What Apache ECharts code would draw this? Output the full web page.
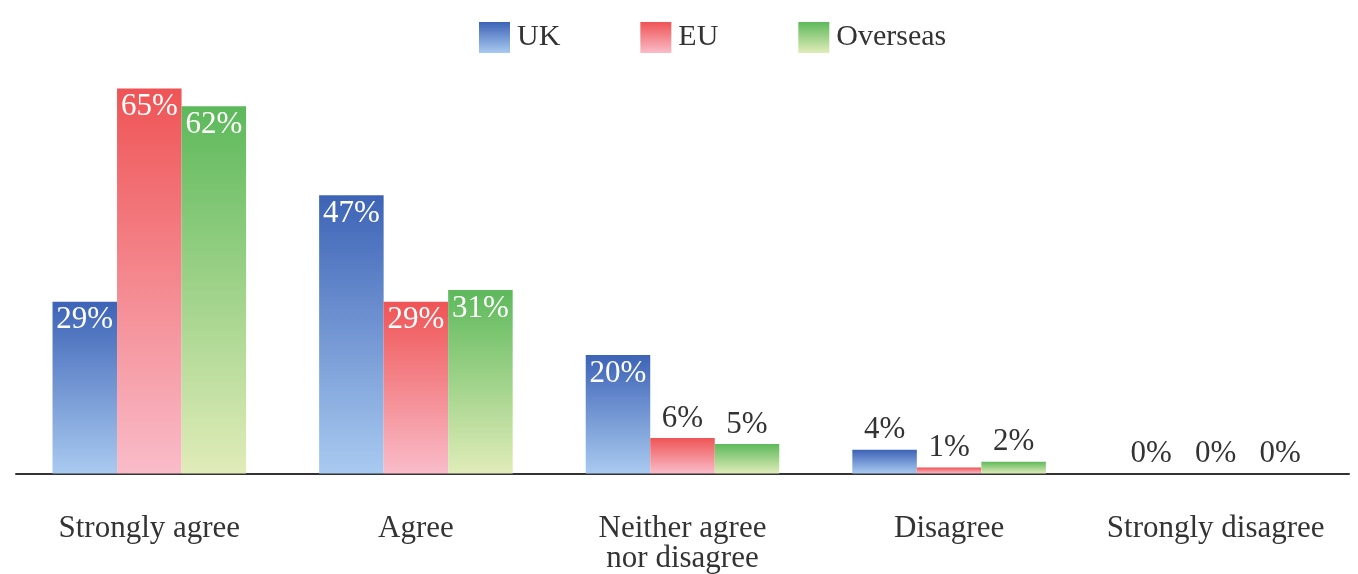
<!DOCTYPE html>
<html>
<head>
<meta charset="utf-8">
<script src="https://cdn.jsdelivr.net/npm/echarts@6/dist/echarts.min.js"></script>
<style>
html,body{margin:0;padding:0;background:#fff;}
#chart{width:1358px;height:574px;}
</style>
</head>
<body>
<div id="chart"></div>
<script>
const categories = ['Strongly agree', 'Agree', 'Neither agree\nnor disagree', 'Disagree', 'Strongly disagree'];
const seriesNames = ['UK', 'EU', 'Overseas'];
const ukValues = [29, 47, 20, 4, 0];
const euValues = [65, 29, 6, 1, 0];
const overseasValues = [62, 31, 5, 2, 0];

const FONT = '"Liberation Serif", "Times New Roman", serif';
const palette = [
  ['#3d63b6', '#a9caf0'],
  ['#ef5455', '#f9bcc9'],
  ['#5db95b', '#e1ecb9']
];
function grad(c) {
  return new echarts.graphic.LinearGradient(0, 0, 0, 1, [
    { offset: 0, color: c[0] },
    { offset: 1, color: c[1] }
  ]);
}
function makeData(vals) {
  return vals.map(v => {
    const inside = v >= 10;
    return {
      value: v,
      label: {
        position: inside ? 'insideTop' : 'top',
        distance: inside ? 3 : 4,
        color: inside ? '#ffffff' : '#333333'
      }
    };
  });
}
const allValues = [ukValues, euValues, overseasValues];
const chart = echarts.init(document.getElementById('chart'));
chart.setOption({
  animation: false,
  backgroundColor: '#ffffff',
  legend: {
    top: 17,
    left: 474,
    icon: 'rect',
    itemWidth: 31,
    itemHeight: 31,
    itemGap: 80,
    textStyle: { fontFamily: FONT, fontSize: 30, color: '#333333', padding: [2, 0, 0, 2] },
    data: seriesNames
  },
  grid: { left: 16, right: 9, top: 59, bottom: 95, containLabel: false },
  xAxis: {
    type: 'category',
    data: categories,
    axisLine: { lineStyle: { color: '#333333', width: 2 } },
    axisTick: { show: false },
    axisLabel: {
      fontFamily: FONT, fontSize: 31, color: '#333333',
      lineHeight: 30, margin: 40, interval: 0
    }
  },
  yAxis: {
    type: 'value', min: 0, max: 70,
    show: false,
    splitLine: { show: false }
  },
  series: seriesNames.map((name, i) => ({
    name: name,
    type: 'bar',
    barGap: '0%',
    barCategoryGap: '27.4%',
    itemStyle: { color: grad(palette[i]) },
    label: {
      show: true,
      formatter: '{c}%',
      fontFamily: FONT,
      fontSize: 31
    },
    data: makeData(allValues[i])
  }))
});
</script>
</body>
</html>
